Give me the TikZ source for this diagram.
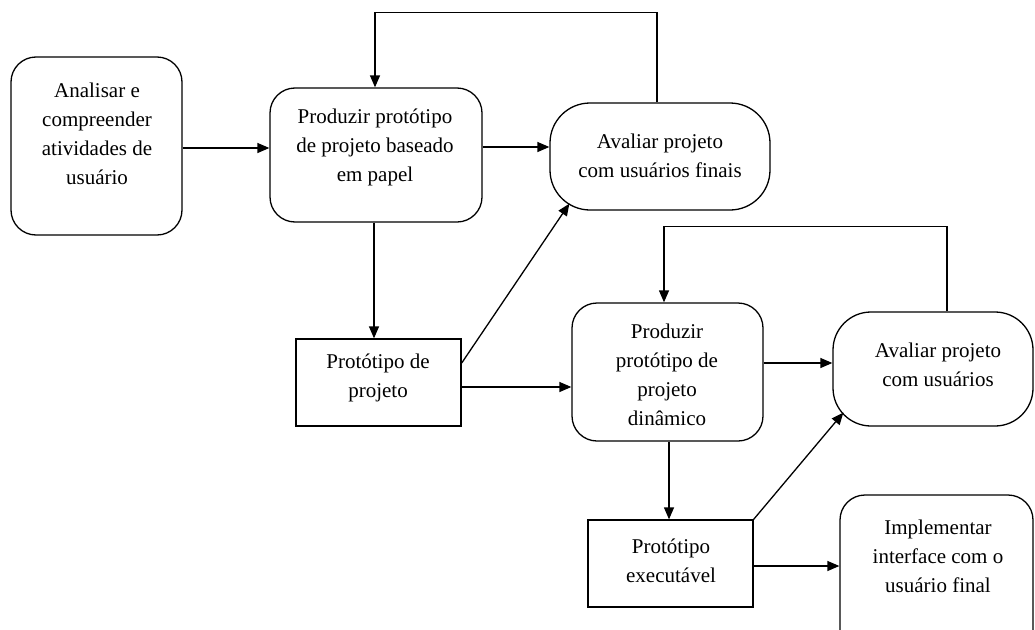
\documentclass[tikz,border=0pt]{standalone}
\usepackage{fontspec}
\setmainfont{Liberation Serif}
\usetikzlibrary{arrows.meta,calc}
\begin{document}
\begin{tikzpicture}[x=1pt,y=-1pt,
  box/.style={draw=black, line width=1.3pt, fill=white, inner sep=0pt},
  rbox/.style={box, rounded corners=25pt},
  pill/.style={box, rounded corners=38pt},
  txt/.style={align=center, font=\fontsize{21}{29}\selectfont, inner sep=0pt},
  flow/.style={line width=1.3pt, -{Triangle[length=12pt,width=10pt]}}]

% canvas
\useasboundingbox (0,0) rectangle (1035,629);
\fill[white] (0,0) rectangle (1035,629);
\clip (0,0) rectangle (1035,629);

% boxes
\node[rbox, minimum width=171pt, minimum height=178pt] (A) at (96.5,146) {};
\node[txt] (tA) at (97,134) {Analisar e\\compreender\\atividades de\\usuário};

\node[rbox, minimum width=212pt, minimum height=134pt] (B) at (376,155) {};
\node[txt] (tB) at (375,147.5) {Produzir protótipo\\de projeto baseado\\em papel};

\node[pill, rounded corners=40pt, minimum width=220pt, minimum height=107pt] (C) at (660,156.5) {};
\node[txt] (tC) at (660,156) {Avaliar projeto\\com usuários finais};

\node[box, minimum width=165pt, minimum height=87pt] (D) at (378.5,382.5) {};
\node[txt] (tD) at (378,378) {Protótipo de\\projeto};

\node[rbox, minimum width=191pt, minimum height=138pt] (E) at (667.5,372) {};
\node[txt] (tE) at (667,375) {Produzir\\protótipo de\\projeto\\dinâmico};

\node[pill, minimum width=200pt, minimum height=114pt] (F) at (933,369) {};
\node[txt] (tF) at (938,365) {Avaliar projeto\\com usuários};

\node[box, minimum width=165pt, minimum height=87pt] (G) at (670.5,563.5) {};
\node[txt] (tG) at (671,561) {Protótipo\\executável};

\node[rbox, minimum width=193pt, minimum height=165pt] (H) at (936.5,577.5) {};
\node[txt] (tH) at (938,556) {Implementar\\interface com o\\usuário final};

% connectors
\draw[flow] ([yshift=-2pt]A.east) -- ([yshift=-2pt]A.east -| B.west);
\draw[flow] ([yshift=8pt]B.east) -- ([yshift=8pt]B.east -| C.west);
\draw[flow] ([xshift=-3pt]C.north) -- ++(0,-90) -| ([xshift=-1pt]B.north);
\draw[flow] ([xshift=-2pt]B.south) -- ([xshift=-2pt]B.south |- D.north);
\draw[flow] ($(D.north east)!0.28!(D.south east)$) -- ([xshift=20pt,yshift=7pt]C.south west);
\draw[flow] ([yshift=-4.5pt]D.east) -- ([yshift=-4.5pt]D.east -| E.west);
\draw[flow] ([xshift=14pt]F.north) -- ++(0,-85) -| ([xshift=-3.5pt]E.north);
\draw[flow] ([yshift=9pt]E.east) -- ([yshift=9pt]E.east -| F.west);
\draw[flow] ([xshift=1.5pt]E.south) -- ([xshift=1.5pt]E.south |- G.north);
\draw[flow] (G.north east) -- ([xshift=11pt,yshift=14pt]F.south west);
\draw[flow] ([yshift=-2.5pt]G.east) -- ([yshift=-2.5pt]G.east -| H.west);
\end{tikzpicture}
\end{document}
